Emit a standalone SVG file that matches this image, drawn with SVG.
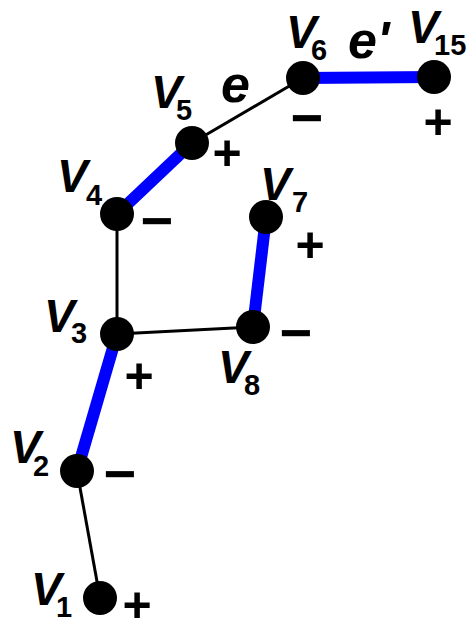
<svg xmlns="http://www.w3.org/2000/svg" width="474" height="623" viewBox="0 0 474 623">
<style>
.blk{stroke:#000;stroke-width:3;fill:none}
.blu{stroke:#0000ff;stroke-width:12;fill:none}
.nd{fill:#000}
.v{font-family:"Liberation Sans",Arial,sans-serif;font-weight:bold;font-style:italic;font-size:46px;fill:#000}
.s{font-family:"Liberation Sans",Arial,sans-serif;font-weight:bold;font-size:29px;fill:#000}
.sg{font-family:"Liberation Sans",Arial,sans-serif;font-weight:bold;font-size:50px;fill:#000;text-anchor:middle}
.m{font-family:"Liberation Sans",Arial,sans-serif;font-weight:bold;font-size:56px;fill:#000;text-anchor:middle}
.e{font-family:"Liberation Sans",Arial,sans-serif;font-weight:bold;font-style:italic;font-size:52px;fill:#000}
</style>
<rect width="474" height="623" fill="#fff"/>
<g id="connectors">
<line class="blk" x1="100" y1="598" x2="77" y2="471"/>
<line class="blu" x1="77" y1="471" x2="117" y2="334"/>
<line class="blk" x1="117" y1="334" x2="117" y2="214"/>
<line class="blk" x1="117" y1="334" x2="253" y2="327"/>
<line class="blu" x1="117" y1="214" x2="192" y2="143"/>
<line class="blk" x1="192" y1="143" x2="303" y2="78"/>
<line class="blu" x1="303" y1="78" x2="434" y2="77"/>
<line class="blu" x1="266" y1="217" x2="253" y2="327"/>
<text class="e" x="221" y="102">e</text>
<text class="e" x="348" y="58">e'</text>
</g>
<g id="v1"><circle class="nd" cx="100" cy="598" r="17"/><text class="v" x="31" y="605">V</text><text class="s" x="56" y="617">1</text><text class="sg" x="137" y="622">+</text></g>
<g id="v2"><circle class="nd" cx="77" cy="471" r="17"/><text class="v" x="10" y="463">V</text><text class="s" x="33" y="476">2</text><text class="m" x="120" y="493">−</text></g>
<g id="v3"><circle class="nd" cx="117" cy="334" r="17"/><text class="v" x="44" y="332">V</text><text class="s" x="71" y="343">3</text><text class="sg" x="139" y="393">+</text></g>
<g id="v4"><circle class="nd" cx="117" cy="214" r="17"/><text class="v" x="57" y="192">V</text><text class="s" x="86" y="205">4</text><text class="m" x="157" y="240">−</text></g>
<g id="v5"><circle class="nd" cx="192" cy="143" r="17"/><text class="v" x="151" y="108">V</text><text class="s" x="176" y="120">5</text><text class="sg" x="227" y="170">+</text></g>
<g id="v6"><circle class="nd" cx="303" cy="78" r="17"/><text class="v" x="286" y="48">V</text><text class="s" x="311" y="60">6</text><text class="m" x="307" y="137">−</text></g>
<g id="v15"><circle class="nd" cx="434" cy="77" r="17"/><text class="v" x="408" y="43">V</text><text class="s" x="434" y="55">15</text><text class="sg" x="438" y="139">+</text></g>
<g id="v7"><circle class="nd" cx="266" cy="217" r="17"/><text class="v" x="260" y="200">V</text><text class="s" x="292" y="212">7</text><text class="sg" x="310" y="262">+</text></g>
<g id="v8"><circle class="nd" cx="253" cy="327" r="17"/><text class="v" x="218" y="383">V</text><text class="s" x="244" y="395">8</text><text class="m" x="296" y="352">−</text></g>
</svg>
